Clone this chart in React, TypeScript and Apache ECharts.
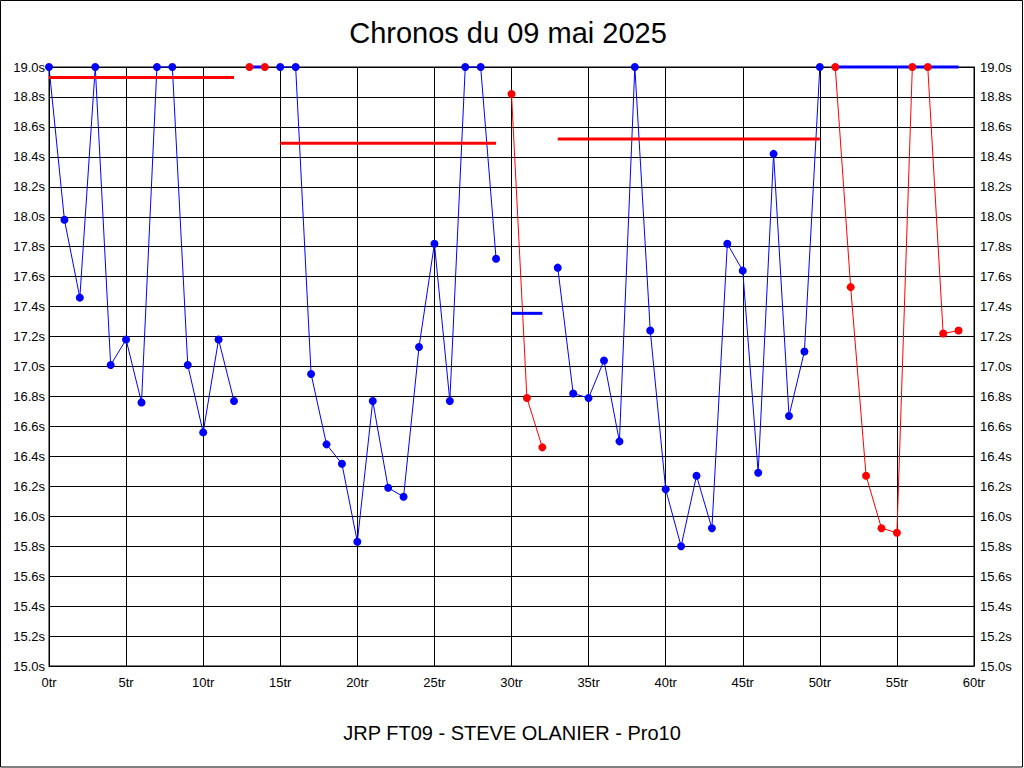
import React, { useEffect, useRef } from "react";
import * as echarts from "echarts";

// Lap times (seconds) indexed by lap number 0..59
const lapTimes: number[] = [
  19.0, 17.98, 17.46, 19.0, 17.01, 17.18, 16.76, 19.0, 19.0, 17.01,
  16.56, 17.18, 16.77, 19.0, 19.0, 19.0, 19.0, 16.95, 16.48, 16.35,
  15.83, 16.77, 16.19, 16.13, 17.13, 17.82, 16.77, 19.0, 19.0, 17.72,
  18.82, 16.79, 16.46, 17.66, 16.82, 16.79, 17.04, 16.5, 19.0, 17.24,
  16.18, 15.8, 16.27, 15.92, 17.82, 17.64, 16.29, 18.42, 16.67, 17.1,
  19.0, 19.0, 17.53, 16.27, 15.92, 15.89, 19.0, 19.0, 17.22, 17.24,
];

// Runs: [first lap, last lap, colour]
const runStarts: number[] = [0, 13, 15, 30, 33, 51];
const runEnds: number[] = [12, 14, 29, 32, 50, 59];
const runColors: string[] = ["#0000ff", "#ff0000", "#0000ff", "#ff0000", "#0000ff", "#ff0000"];

// Reference (horizontal) line per run
const refValues: number[] = [18.93, 19.0, 18.49, 17.355, 18.52, 19.0];
const refColors: string[] = ["#ff0000", "#0000ff", "#ff0000", "#0000ff", "#ff0000", "#0000ff"];

const xTicks = { min: 0, max: 60, interval: 5 };
const yTicks = { min: 15, max: 19, interval: 0.2 };

const titleText = "Chronos du 09 mai 2025";
const subtitleText = "JRP FT09 - STEVE OLANIER - Pro10";

const FONT = "'Liberation Sans', Arial, sans-serif";

export default function App() {
  const ref = useRef<HTMLDivElement>(null);

  useEffect(() => {
    if (!ref.current) return;
    const chart = echarts.init(ref.current, undefined, { renderer: "svg" });

    const series: any[] = [];
    runStarts.forEach((s, i) => {
      const e = runEnds[i];
      const pts: number[][] = [];
      for (let k = s; k <= e; k++) pts.push([k, lapTimes[k]]);
      series.push({
        type: "line",
        data: pts,
        showSymbol: false,
        symbol: "none",
        clip: false,
        z: 2,
        lineStyle: { color: runColors[i], width: 1 },
        silent: true,
      });
      series.push({
        type: "line",
        data: [
          [s, refValues[i]],
          [e, refValues[i]],
        ],
        symbol: "none",
        showSymbol: false,
        clip: false,
        z: 3,
        lineStyle: { color: refColors[i], width: 3 },
        silent: true,
      });
      series.push({
        type: "scatter",
        data: pts,
        symbol: "circle",
        symbolSize: 8,
        clip: false,
        z: 4,
        itemStyle: { color: runColors[i], opacity: 1 },
        silent: true,
      });
    });

    const yLabel = (v: number) => v.toFixed(1) + "s";

    chart.setOption({
      animation: false,
      backgroundColor: "#ffffff",
      grid: {
        left: 49,
        right: 50,
        top: 67,
        bottom: 102,
        show: true,
        borderColor: "#000",
        borderWidth: 1,
        backgroundColor: "transparent",
      },
      xAxis: {
        type: "value",
        min: xTicks.min,
        max: xTicks.max,
        interval: xTicks.interval,
        axisLine: { show: true, lineStyle: { color: "#000", width: 1 } },
        axisTick: { show: false },
        splitLine: { show: true, lineStyle: { color: "#000", width: 1 } },
        axisLabel: {
          formatter: (v: number) => v + "tr",
          color: "#000",
          fontSize: 13,
          fontFamily: FONT,
          margin: 10,
        },
      },
      yAxis: [
        {
          type: "value",
          position: "left",
          min: yTicks.min,
          max: yTicks.max,
          interval: yTicks.interval,
          axisLine: { show: true, lineStyle: { color: "#000", width: 1 } },
          axisTick: { show: false },
          splitLine: { show: true, lineStyle: { color: "#000", width: 1 } },
          axisLabel: {
            formatter: yLabel,
            color: "#000",
            fontSize: 13,
            fontFamily: FONT,
            margin: 4,
          },
        },
        {
          type: "value",
          position: "right",
          min: yTicks.min,
          max: yTicks.max,
          interval: yTicks.interval,
          axisLine: { show: true, lineStyle: { color: "#000", width: 1 } },
          axisTick: { show: false },
          splitLine: { show: false },
          axisLabel: {
            formatter: yLabel,
            color: "#000",
            fontSize: 13,
            fontFamily: FONT,
            margin: 6,
          },
        },
      ],
      graphic: [
        {
          type: "rect",
          shape: { x: 0.5, y: 0.5, width: 1022, height: 766.5 },
          style: { fill: "none", stroke: "#000", lineWidth: 1 },
          silent: true,
          z: 10,
        },
        {
          type: "text",
          x: 508,
          y: 33,
          style: {
            text: titleText,
            fill: "#000",
            font: `29px ${FONT}`,
            textAlign: "center",
            textVerticalAlign: "middle",
          },
          silent: true,
        },
        {
          type: "text",
          x: 512,
          y: 733,
          style: {
            text: subtitleText,
            fill: "#000",
            font: `20px ${FONT}`,
            textAlign: "center",
            textVerticalAlign: "middle",
          },
          silent: true,
        },
      ],
      series,
    });

    return () => {
      chart.dispose();
    };
  }, []);

  return (
    <div
      ref={ref}
      style={{ position: "fixed", left: 0, top: 0, width: 1024, height: 768, background: "#fff" }}
    />
  );
}
